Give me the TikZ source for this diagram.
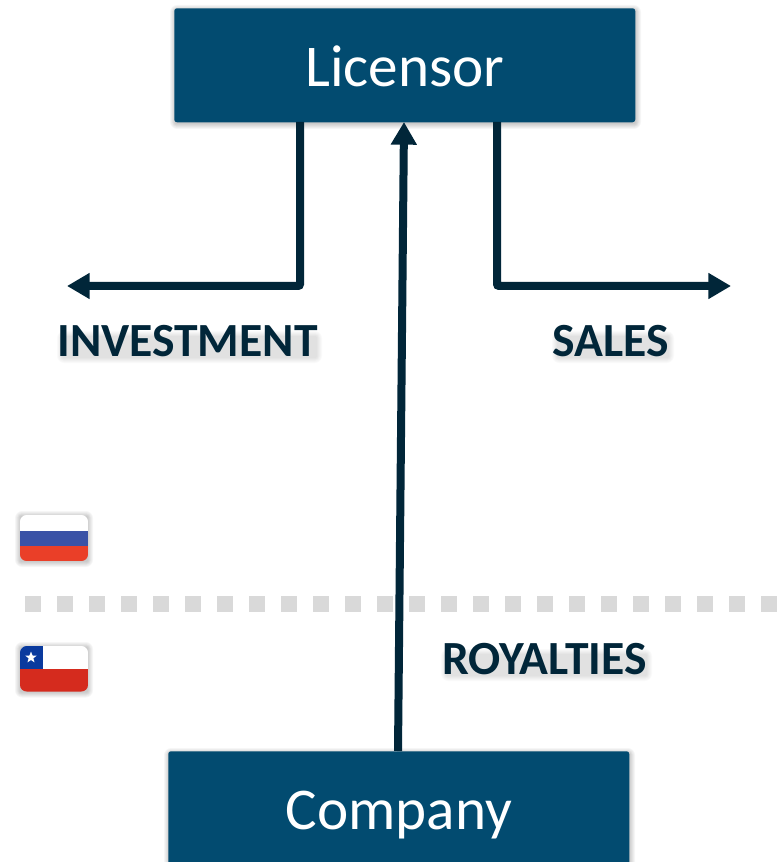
\documentclass[tikz,border=0pt]{standalone}
\usepackage{fontspec}
\setmainfont{Carlito}
\usetikzlibrary{arrows.meta,shapes.geometric}
\definecolor{boxblue}{HTML}{024B70}
\definecolor{linedark}{HTML}{012639}
\definecolor{dashgray}{HTML}{D9D9D9}
\definecolor{flagblue}{HTML}{3A52A6}
\definecolor{flagred}{HTML}{EA3F28}
\definecolor{chileblue}{HTML}{0A3A9E}
\definecolor{chilered}{HTML}{D52B1E}
\tikzset{
  px/.style={x=0.75pt,y=-0.75pt},
  bigbox/.style={fill=boxblue,rounded corners=2pt,inner sep=0pt,minimum width=345.75pt,minimum height=85.5pt},
  softlayer/.style={fill=black,opacity=#1,draw=none},
  boxtext/.style={text=white,font=\fontsize{44.4pt}{50pt}\selectfont,inner sep=0pt,anchor=base},
  labeltext/.style={text=linedark,font=\fontsize{35.7pt}{40pt}\selectfont\bfseries,inner sep=0pt,anchor=base},
  conn/.style={draw=linedark,line width=6pt,rounded corners=1.5pt},
  connarrow/.style={conn,-{Triangle[length=17pt,width=18.5pt]}},
  sep/.style={draw=dashgray,line width=12pt,dash pattern=on 12pt off 12pt},
}
% soft shadow: #1,#2 top-left, #3,#4 bottom-right, #5 layer opacity
\newcommand{\softshadow}[5]{%
  \foreach \g in {0,1,2,3,4,5}{
    \fill[softlayer=#5,rounded corners={(6-\g)*0.9pt}] ({#1-5+\g},{#2-5+\g}) rectangle ({#3+5-\g},{#4+5-\g});
  }}
\begin{document}
\begin{tikzpicture}[px]
\useasboundingbox (0,0) rectangle (778,862);
\clip (0,0) rectangle (778,862);
\fill[white] (0,0) rectangle (778,862);

% separator
\coordinate (sepL) at (25,603.5);
\coordinate (sepR) at (778,603.5);
\draw[sep] (sepL) -- (sepR);

% box shadows
\softshadow{175}{10}{636}{124}{0.035}
\softshadow{169}{753}{630}{900}{0.035}

% boxes
\node[bigbox,anchor=north west] (lic) at (174,8) {};
\node[bigbox,anchor=north west,minimum height=120pt] (com) at (168,751) {};
\node[boxtext] (lictext) at (405,87) {Licensor};
\node[boxtext] (comtext) at (399,829) {Company};

% connectors
\coordinate (invS) at (300,122);
\coordinate (invEnd) at (67,286);
\coordinate (salS) at (497,122);
\coordinate (salEnd) at (731,286);
\coordinate (royS) at (398,751);
\coordinate (royE) at (404,122);
\draw[connarrow] (invS) |- (invEnd);
\draw[connarrow] (salS) |- (salEnd);
\draw[connarrow,rounded corners=0pt] (royS) -- (royE);

% label shadows
\softshadow{62}{336}{317}{358}{0.02}
\softshadow{557}{336}{669}{358}{0.02}
\softshadow{446}{654}{647}{676}{0.02}

% labels
\node[labeltext] (investment) at (187.5,356) {INVESTMENT};
\node[labeltext] (sales) at (611,356) {SALES};
\node[labeltext] (royalties) at (544.5,674) {ROYALTIES};

% Russia flag
\softshadow{20}{516}{88}{562}{0.035}
\begin{scope}
  \clip[rounded corners=5pt] (20,515) rectangle (88,561);
  \fill[white] (20,515) rectangle (88,531);
  \fill[flagblue] (20,531) rectangle (88,546);
  \fill[flagred] (20,546) rectangle (88,561);
\end{scope}

% Chile flag
\softshadow{20}{647}{88}{692.5}{0.035}
\begin{scope}
  \clip[rounded corners=5pt] (20,646) rectangle (88,691.5);
  \fill[white] (20,646) rectangle (88,669);
  \fill[chileblue] (20,646) rectangle (43,669);
  \fill[chilered] (20,669) rectangle (88,691.5);
\end{scope}
\node[star,star points=5,star point ratio=2.4,fill=white,minimum size=9pt,inner sep=0pt] (chstar) at (31,657.5) {};
\end{tikzpicture}
\end{document}
